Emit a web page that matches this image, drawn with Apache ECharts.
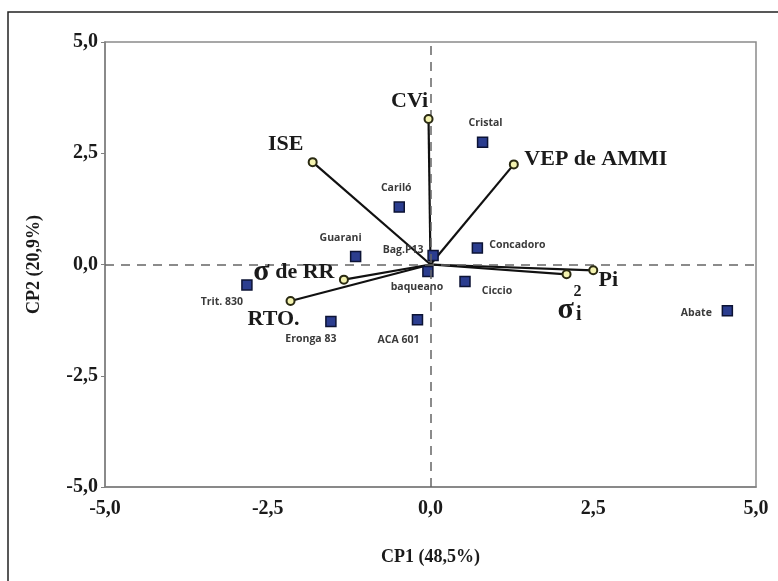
<!DOCTYPE html>
<html>
<head>
<meta charset="utf-8">
<script src="https://cdn.jsdelivr.net/npm/echarts@6/dist/echarts.min.js"></script>
<style>
  html, body { margin: 0; padding: 0; background: #fff; }
  #chart { width: 778px; height: 581px; }
</style>
</head>
<body>
<div id="chart"></div>
<script>
// genotypes (blue squares)
const genotypes = ['Cristal', 'Cariló', 'Guarani', 'Bag.P13', 'Concadoro', 'baqueano', 'Ciccio', 'Trit. 830', 'Eronga 83', 'ACA 601', 'Abate'];
const genoCP1 = [0.80, -0.48, -1.15, 0.04, 0.72, -0.04, 0.53, -2.82, -1.53, -0.20, 4.56];
const genoCP2 = [2.75, 1.29, 0.18, 0.20, 0.37, -0.16, -0.38, -0.46, -1.28, -1.24, -1.04];

// stability parameters (vectors from origin)
const traits = ['CVi', 'ISE', 'VEP de AMMI', 'σ de RR', 'RTO.', 'σi²', 'Pi'];
const traitCP1 = [-0.03, -1.81, 1.28, -1.33, -2.15, 2.09, 2.50];
const traitCP2 = [3.27, 2.30, 2.25, -0.34, -0.82, -0.22, -0.13];

const axisTicks = [-5, -2.5, 0, 2.5, 5];

// label placement (pixels, relative to the mark)
const genoLabelOffset = {
    'Cristal': [3, -19], 'Cariló': [-3, -19], 'Guarani': [-15, -18], 'Bag.P13': [-30, -6],
    'Concadoro': [40, -3], 'baqueano': [-11, 15], 'Ciccio': [32, 10], 'Trit. 830': [-25, 17],
    'Eronga 83': [-20, 18], 'ACA 601': [-19, 20], 'Abate': [-31, 2]
};
const traitLabelOffset = {
    'CVi': [-19, -18], 'ISE': [-27, -18], 'VEP de AMMI': [82, -5], 'σ de RR': [-50, -7],
    'RTO.': [-17, 18], 'σi²': [3, 33], 'Pi': [15, 10]
};

const serif = '"Liberation Serif", "DejaVu Serif", serif';
const fmt = v => v.toFixed(1).replace('.', ',');

let chart = echarts.init(document.getElementById('chart'));

let genoData = genotypes.map((g, i) => ({
    name: g,
    value: [genoCP1[i], genoCP2[i]],
    label: { offset: genoLabelOffset[g] }
}));

let traitData = traits.map((t, i) => {
    let item = {
        name: t,
        value: [traitCP1[i], traitCP2[i]],
        label: { offset: traitLabelOffset[t] }
    };
    if (t === 'σ de RR') {
        item.label.formatter = '{g|σ} {t|de RR}';
    } else if (t === 'σi²') {
        item.label.formatter = '{pad| }{sup|2}\n{g|σ}{sub|i}';
    }
    return item;
});

let vectorData = traits.map((t, i) => ({
    coords: [[0, 0], [traitCP1[i], traitCP2[i]]]
}));

const option = {
    animation: false,
    graphic: [{
        type: 'rect',
        shape: { x: 8, y: 12, width: 800, height: 600 },
        style: { fill: 'none', stroke: '#222', lineWidth: 1.5 },
        z: 0
    }],
    grid: {
        left: 105,
        right: 22,
        top: 42,
        bottom: 94,
        show: true,
        borderColor: '#8a8a8a',
        borderWidth: 1.5
    },
    xAxis: {
        type: 'value',
        min: axisTicks[0],
        max: axisTicks[axisTicks.length - 1],
        interval: 2.5,
        name: 'CP1 (48,5%)',
        nameLocation: 'middle',
        nameGap: 61,
        nameTextStyle: { fontFamily: serif, fontWeight: 'bold', fontSize: 18, color: '#1a1a1a' },
        axisLine: { onZero: false, lineStyle: { color: '#808080', width: 1.5 } },
        axisTick: { show: false },
        splitLine: { show: false },
        axisLabel: {
            formatter: fmt, margin: 12,
            fontFamily: serif, fontWeight: 'bold', fontSize: 20, color: '#1a1a1a'
        }
    },
    yAxis: {
        type: 'value',
        min: axisTicks[0],
        max: axisTicks[axisTicks.length - 1],
        interval: 2.5,
        name: 'CP2 (20,9%)',
        nameLocation: 'middle',
        nameGap: 62,
        nameTextStyle: { fontFamily: serif, fontWeight: 'bold', fontSize: 18, color: '#1a1a1a' },
        axisLine: { onZero: false, lineStyle: { color: '#808080', width: 1.5 } },
        axisTick: { show: true, length: 4, lineStyle: { color: '#808080' } },
        splitLine: { show: false },
        axisLabel: {
            formatter: fmt, margin: 7,
            fontFamily: serif, fontWeight: 'bold', fontSize: 20, color: '#1a1a1a'
        }
    },
    series: [
        {
            // reference dashed axes through the origin
            type: 'line',
            data: [],
            z: 1,
            markLine: {
                silent: true,
                symbol: 'none',
                label: { show: false },
                lineStyle: { color: '#666', type: [9, 7], width: 1.5 },
                data: [{ xAxis: 0 }, { yAxis: 0 }]
            }
        },
        {
            type: 'lines',
            coordinateSystem: 'cartesian2d',
            z: 2,
            lineStyle: { color: '#111', width: 2.2, opacity: 1 },
            data: vectorData
        },
        {
            name: 'genotipos',
            type: 'scatter',
            z: 4,
            symbol: 'rect',
            symbolSize: 10,
            itemStyle: {
                color: '#2b3d8f',
                borderColor: '#0c1334',
                borderWidth: 1.5,
                opacity: 1
            },
            label: {
                show: true,
                position: 'inside',
                formatter: '{b}',
                fontFamily: '"Open Sans", "Liberation Sans", sans-serif',
                fontWeight: 'bold',
                fontSize: 10.5,
                color: '#3a3a3a'
            },
            data: genoData
        },
        {
            name: 'parametros',
            type: 'scatter',
            z: 5,
            symbol: 'circle',
            symbolSize: 8,
            itemStyle: {
                color: '#f4f3b0',
                borderColor: '#2a2a12',
                borderWidth: 2,
                opacity: 1
            },
            label: {
                show: true,
                position: 'inside',
                formatter: '{b}',
                fontFamily: serif,
                fontWeight: 'bold',
                fontSize: 22,
                color: '#1a1a1a',
                rich: {
                    g: { fontFamily: serif, fontSize: 30, color: '#1a1a1a', verticalAlign: 'middle' },
                    t: { fontFamily: serif, fontWeight: 'bold', fontSize: 22, color: '#1a1a1a', verticalAlign: 'middle' },
                    pad: { width: 16, fontSize: 10, lineHeight: 6 },
                    sup: { fontFamily: serif, fontWeight: 'bold', fontSize: 16, lineHeight: 6, color: '#1a1a1a' },
                    sub: { fontFamily: serif, fontWeight: 'bold', fontSize: 20, lineHeight: 30, color: '#1a1a1a', verticalAlign: 'bottom', padding: [8, 0, 0, 2] }
                }
            },
            data: traitData
        }
    ]
};

chart.setOption(option);
</script>
</body>
</html>
